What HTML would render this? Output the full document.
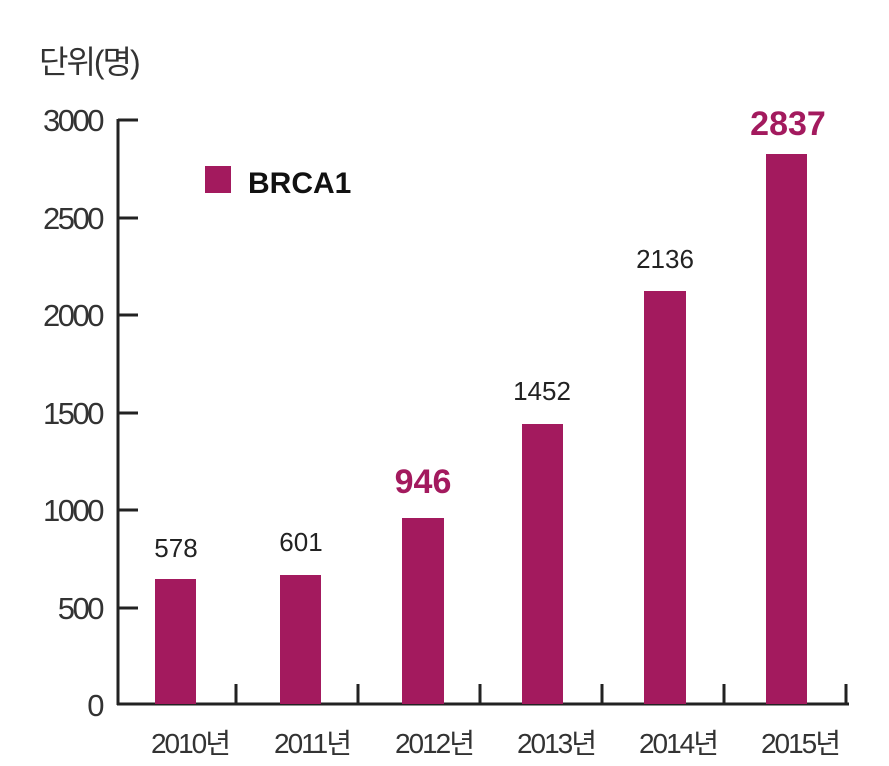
<!DOCTYPE html>
<html><head><meta charset="utf-8"><style>
html,body{margin:0;padding:0;background:#fff;width:889px;height:766px;overflow:hidden}
text{font-family:"Liberation Sans","Noto Sans CJK KR",sans-serif}
</style></head><body>
<svg width="889" height="766" viewBox="0 0 889 766">
<text x="39" y="73" font-size="32" fill="#333" letter-spacing="-2">단위(명)</text>
<g fill="#333" font-size="31" text-anchor="end" letter-spacing="-2.5">
<text x="102" y="131">3000</text>
<text x="102" y="229">2500</text>
<text x="102" y="326">2000</text>
<text x="102" y="424">1500</text>
<text x="102" y="521">1000</text>
<text x="102" y="619">500</text>
<text x="102" y="716">0</text>
</g>
<g stroke="#222" stroke-width="3" fill="none">
<line x1="118" y1="119" x2="118" y2="705"/>
<line x1="117" y1="704" x2="849" y2="704"/>
<line x1="118" y1="120" x2="138" y2="120"/>
<line x1="118" y1="218" x2="138" y2="218"/>
<line x1="118" y1="315" x2="138" y2="315"/>
<line x1="118" y1="413" x2="138" y2="413"/>
<line x1="118" y1="510" x2="138" y2="510"/>
<line x1="118" y1="608" x2="138" y2="608"/>
<line x1="236" y1="684" x2="236" y2="704"/>
<line x1="358" y1="684" x2="358" y2="704"/>
<line x1="480" y1="684" x2="480" y2="704"/>
<line x1="602" y1="684" x2="602" y2="704"/>
<line x1="724" y1="684" x2="724" y2="704"/>
<line x1="846" y1="684" x2="846" y2="704"/>
</g>
<g fill="#a31a5e">
<rect x="155" y="579" width="41" height="125"/>
<rect x="280" y="575" width="41" height="129"/>
<rect x="402" y="518" width="42" height="186"/>
<rect x="522" y="424" width="41" height="280"/>
<rect x="644" y="291" width="42" height="413"/>
<rect x="766" y="154" width="41" height="550"/>
<rect x="205" y="166" width="26" height="27"/>
</g>
<text x="248" y="193" font-size="30" font-weight="bold" fill="#111">BRCA1</text>
<g fill="#222" font-size="26" text-anchor="middle">
<text x="176" y="557">578</text>
<text x="301" y="551">601</text>
<text x="542" y="400">1452</text>
<text x="665" y="268">2136</text>
</g>
<g fill="#a31a5e" font-size="34" font-weight="bold" text-anchor="middle">
<text x="423" y="493">946</text>
<text x="788" y="135">2837</text>
</g>
<g fill="#333" font-size="28" text-anchor="middle" letter-spacing="-2">
<text x="190" y="753">2010년</text>
<text x="312" y="753">2011년</text>
<text x="434" y="753">2012년</text>
<text x="556" y="753">2013년</text>
<text x="678" y="753">2014년</text>
<text x="800" y="753">2015년</text>
</g>
</svg>
</body></html>
